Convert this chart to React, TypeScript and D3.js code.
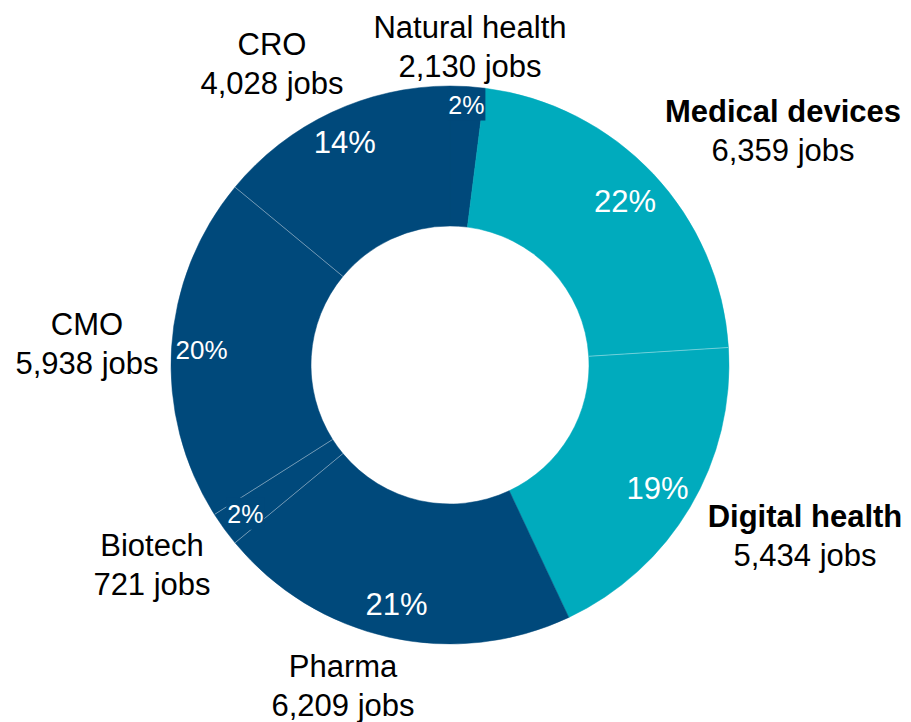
import React from "react";
import * as d3 from "d3";

const categories = ["Natural health", "Medical devices", "Digital health", "Pharma", "Biotech", "CMO", "CRO"];
const shares = [2, 22, 19, 21, 2, 20, 14];
const jobs = ["2,130", "6,359", "5,434", "6,209", "721", "5,938", "4,028"];
const boldNames = ["Medical devices", "Digital health"];
const groups = ["navy", "teal", "teal", "navy", "navy", "navy", "navy"];

// layout constants (not data)
const W = 911, H = 722;
const CX = 450, CY = 365, R_OUT = 279, R_IN = 139;
const COLORS: Record<string, string> = { navy: "#00497B", teal: "#00ABBD" };
const pctRadius = [261, 240, 241, 245, 253, 249, 247];
const pctSize = [25, 31, 31, 31, 25, 26, 31];
const pctBox = [true, false, false, false, true, false, false];
const nameLabelPos: [number, number][] = [
  [470, 38], [783, 122], [805, 527], [343, 677], [152, 556], [87, 335], [272, 55],
];
const LINE_GAP = 38.5;

export default function App() {
  const pie = d3.pie<number>().sort(null).value((d) => d).startAngle(0).endAngle(2 * Math.PI);
  const arcs = pie(shares);
  const arc = d3.arc<d3.PieArcDatum<number>>().innerRadius(R_IN).outerRadius(R_OUT);
  const font = "'Liberation Sans', Arial, sans-serif";
  // separators between adjacent slices of the same colour (skip the 12 o'clock seam)
  const seps = arcs
    .map((a, i) => ({ a, i }))
    .filter(({ i }) => i > 0 && groups[i] === groups[i - 1])
    .map(({ a }) => a.startAngle);
  return (
    <svg width={W} height={H} style={{ position: "absolute", left: 0, top: 0 }} fontFamily={font}>
      <g transform={`translate(${CX},${CY})`}>
        {arcs.map((a, i) => (
          <path key={i} d={arc(a) || ""} fill={COLORS[groups[i]]} stroke={COLORS[groups[i]]} strokeWidth={0.5} />
        ))}
        {seps.map((ang, k) => (
          <line
            key={"s" + k}
            x1={Math.sin(ang) * R_IN}
            y1={-Math.cos(ang) * R_IN}
            x2={Math.sin(ang) * R_OUT}
            y2={-Math.cos(ang) * R_OUT}
            stroke="rgba(255,255,255,0.4)"
            strokeWidth={1}
          />
        ))}
        {arcs.map((a, i) => {
          const mid = (a.startAngle + a.endAngle) / 2;
          const r = pctRadius[i];
          const x = Math.sin(mid) * r;
          const y = -Math.cos(mid) * r;
          const fs = pctSize[i];
          const label = `${shares[i]}%`;
          const w = label.length * fs * 0.56 + 10;
          return (
            <g key={"p" + i}>
              {pctBox[i] && (
                <rect x={x - w / 2} y={y - fs * 0.64} width={w} height={fs * 1.28} fill={COLORS[groups[i]]} />
              )}
              <text x={x} y={y} dy="0.36em" textAnchor="middle" fill="#fff" fontSize={fs}>
                {label}
              </text>
            </g>
          );
        })}
      </g>
      {categories.map((c, i) => {
        const [x, y] = nameLabelPos[i];
        const bold = boldNames.includes(c);
        return (
          <g key={"n" + i}>
            <text x={x} y={y} textAnchor="middle" fontSize={31} fontWeight={bold ? "bold" : "normal"} fill="#000">
              {c}
            </text>
            <text x={x} y={y + LINE_GAP} textAnchor="middle" fontSize={31} fill="#000">
              {`${jobs[i]} jobs`}
            </text>
          </g>
        );
      })}
    </svg>
  );
}
